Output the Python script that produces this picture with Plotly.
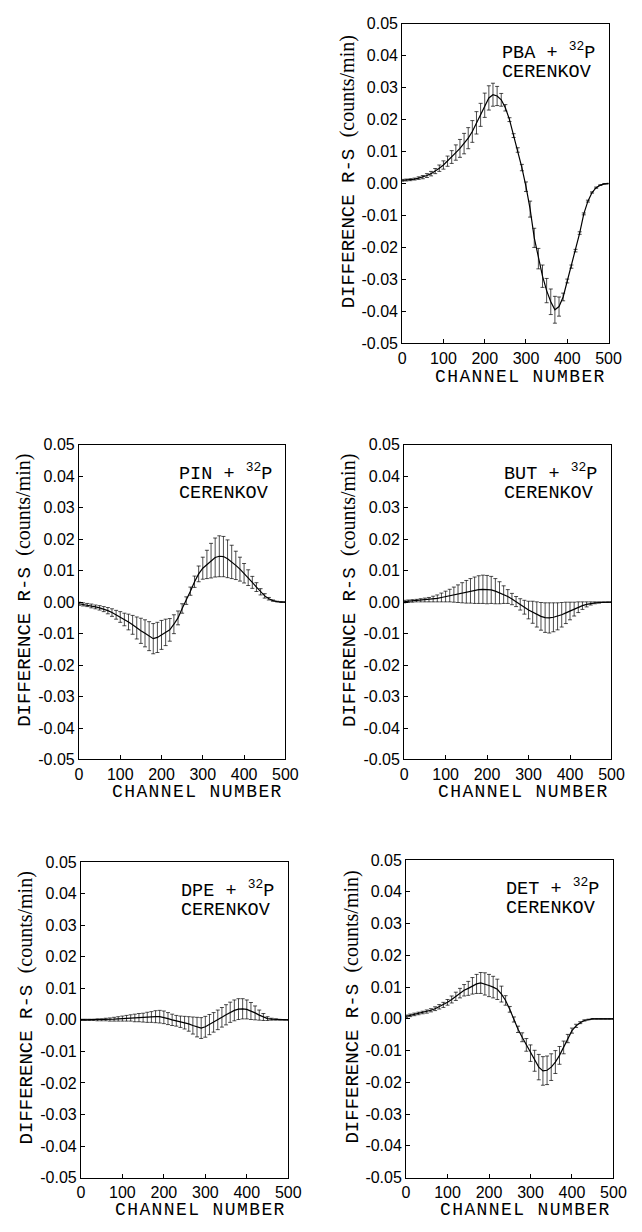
import plotly.graph_objects as go

channels = list(range(0, 501, 10))

pba_mean = [0.0010, 0.0011, 0.0012, 0.0014, 0.0017, 0.0020, 0.0025, 0.0031, 0.0039, 0.0048,
            0.0058, 0.0070, 0.0083, 0.0097, 0.0110, 0.0125, 0.0142, 0.0163, 0.0190, 0.0215,
            0.0245, 0.0268, 0.0278, 0.0274, 0.0262, 0.0237, 0.0200, 0.0150, 0.0105, 0.0050,
            -0.0010, -0.0080, -0.0170, -0.0235, -0.0290, -0.0335, -0.0370, -0.0395, -0.0385, -0.0355,
            -0.0305, -0.0260, -0.0210, -0.0155, -0.0095, -0.0055, -0.0028, -0.0013, -0.0005, -0.0001,
            0.0000]
pba_err = [0.0003, 0.0003, 0.0003, 0.0003, 0.0004, 0.0005, 0.0006, 0.0007, 0.0008, 0.0010,
           0.0013, 0.0016, 0.0020, 0.0024, 0.0028, 0.0032, 0.0033, 0.0034, 0.0035, 0.0036,
           0.0038, 0.0038, 0.0036, 0.0030, 0.0020, 0.0010, 0.0006, 0.0006, 0.0007, 0.0010,
           0.0015, 0.0025, 0.0030, 0.0032, 0.0035, 0.0038, 0.0040, 0.0042, 0.0030, 0.0012,
           0.0006, 0.0005, 0.0004, 0.0004, 0.0003, 0.0003, 0.0002, 0.0002, 0.0001, 0.0001,
           0.0001]

pin_mean = [-0.0005, -0.0007, -0.0009, -0.0012, -0.0015, -0.0018, -0.0022, -0.0027, -0.0033, -0.0040,
            -0.0047, -0.0055, -0.0063, -0.0072, -0.0082, -0.0091, -0.0099, -0.0108, -0.0116, -0.0112,
            -0.0104, -0.0096, -0.0088, -0.0070, -0.0050, -0.0020, 0.0005, 0.0035, 0.0065, 0.0090,
            0.0108, 0.0120, 0.0132, 0.0142, 0.0146, 0.0145, 0.0138, 0.0128, 0.0117, 0.0105,
            0.0092, 0.0078, 0.0063, 0.0048, 0.0033, 0.0020, 0.0011, 0.0005, 0.0002, 0.0000,
            0.0000]
pin_err = [0.0005, 0.0005, 0.0005, 0.0006, 0.0006, 0.0007, 0.0008, 0.0010, 0.0012, 0.0014,
           0.0017, 0.0020, 0.0025, 0.0030, 0.0035, 0.0040, 0.0043, 0.0046, 0.0048, 0.0048,
           0.0046, 0.0042, 0.0036, 0.0030, 0.0022, 0.0015, 0.0012, 0.0013, 0.0018, 0.0025,
           0.0035, 0.0045, 0.0055, 0.0062, 0.0065, 0.0064, 0.0060, 0.0053, 0.0045, 0.0038,
           0.0031, 0.0025, 0.0019, 0.0014, 0.0010, 0.0007, 0.0004, 0.0002, 0.0001, 0.0001,
           0.0001]

but_mean = [0.0002, 0.0003, 0.0004, 0.0005, 0.0006, 0.0007, 0.0008, 0.0010, 0.0012, 0.0015,
            0.0018, 0.0021, 0.0024, 0.0027, 0.0030, 0.0033, 0.0036, 0.0038, 0.0040, 0.0041,
            0.0040, 0.0039, 0.0035, 0.0030, 0.0024, 0.0018, 0.0010, 0.0002, -0.0007, -0.0016,
            -0.0025, -0.0032, -0.0039, -0.0045, -0.0049, -0.0050, -0.0048, -0.0045, -0.0040, -0.0034,
            -0.0028, -0.0022, -0.0016, -0.0011, -0.0007, -0.0004, -0.0002, -0.0001, 0.0000, 0.0000,
            0.0000]
but_err = [0.0004, 0.0004, 0.0004, 0.0004, 0.0005, 0.0006, 0.0007, 0.0009, 0.0011, 0.0014,
           0.0017, 0.0020, 0.0024, 0.0028, 0.0032, 0.0036, 0.0039, 0.0042, 0.0044, 0.0045,
           0.0045, 0.0043, 0.0040, 0.0035, 0.0028, 0.0022, 0.0018, 0.0016, 0.0018, 0.0022,
           0.0028, 0.0035, 0.0040, 0.0044, 0.0047, 0.0048, 0.0046, 0.0043, 0.0039, 0.0034,
           0.0028, 0.0022, 0.0017, 0.0012, 0.0008, 0.0005, 0.0003, 0.0002, 0.0001, 0.0001,
           0.0001]

dpe_mean = [0.0000, 0.0000, 0.0000, 0.0000, 0.0000, 0.0000, 0.0001, 0.0001, 0.0002, 0.0003,
            0.0004, 0.0005, 0.0006, 0.0006, 0.0007, 0.0007, 0.0008, 0.0009, 0.0010, 0.0010,
            0.0008, 0.0004, 0.0000, -0.0003, -0.0006, -0.0009, -0.0013, -0.0018, -0.0023, -0.0026,
            -0.0022, -0.0015, -0.0008, 0.0000, 0.0008, 0.0016, 0.0024, 0.0030, 0.0034, 0.0035,
            0.0033, 0.0028, 0.0022, 0.0015, 0.0009, 0.0004, 0.0002, 0.0001, 0.0000, 0.0000,
            0.0000]
dpe_err = [0.0002, 0.0002, 0.0002, 0.0002, 0.0003, 0.0003, 0.0004, 0.0005, 0.0006, 0.0007,
           0.0008, 0.0009, 0.0010, 0.0012, 0.0013, 0.0014, 0.0016, 0.0017, 0.0019, 0.0020,
           0.0020, 0.0019, 0.0018, 0.0017, 0.0018, 0.0020, 0.0023, 0.0027, 0.0031, 0.0033,
           0.0033, 0.0032, 0.0031, 0.0031, 0.0031, 0.0032, 0.0032, 0.0033, 0.0033, 0.0032,
           0.0030, 0.0027, 0.0022, 0.0016, 0.0011, 0.0006, 0.0003, 0.0002, 0.0001, 0.0001,
           0.0001]

det_mean = [0.0008, 0.0011, 0.0014, 0.0017, 0.0020, 0.0023, 0.0027, 0.0032, 0.0038, 0.0044,
            0.0052, 0.0061, 0.0071, 0.0081, 0.0090, 0.0096, 0.0104, 0.0110, 0.0113, 0.0110,
            0.0105, 0.0100, 0.0093, 0.0078, 0.0058, 0.0030, -0.0002, -0.0033, -0.0058, -0.0082,
            -0.0108, -0.0132, -0.0152, -0.0164, -0.0162, -0.0152, -0.0136, -0.0115, -0.0090, -0.0062,
            -0.0037, -0.0022, -0.0012, -0.0005, -0.0002, 0.0000, 0.0000, 0.0000, 0.0000, 0.0000,
            0.0000]
det_err = [0.0004, 0.0004, 0.0004, 0.0004, 0.0004, 0.0005, 0.0005, 0.0006, 0.0007, 0.0008,
           0.0009, 0.0011, 0.0013, 0.0015, 0.0018, 0.0022, 0.0026, 0.0030, 0.0033, 0.0035,
           0.0035, 0.0034, 0.0032, 0.0025, 0.0015, 0.0009, 0.0008, 0.0010, 0.0014, 0.0020,
           0.0026, 0.0033, 0.0040, 0.0045, 0.0045, 0.0042, 0.0036, 0.0028, 0.0020, 0.0013,
           0.0008, 0.0005, 0.0003, 0.0002, 0.0001, 0.0001, 0.0001, 0.0001, 0.0001, 0.0001,
           0.0001]

sample_names = ["PBA", "PIN", "BUT", "DPE", "DET"]
series_means = [pba_mean, pin_mean, but_mean, dpe_mean, det_mean]
series_errs = [pba_err, pin_err, but_err, dpe_err, det_err]

x_tick_vals = [0, 100, 200, 300, 400, 500]
x_tick_labels = ["0", "100", "200", "300", "400", "500"]
y_tick_vals = [-0.05, -0.04, -0.03, -0.02, -0.01, 0.0, 0.01, 0.02, 0.03, 0.04, 0.05]
y_tick_labels = ["-0.05", "-0.04", "-0.03", "-0.02", "-0.01", "0.00",
                 "0.01", "0.02", "0.03", "0.04", "0.05"]

x_title = "CHANNEL NUMBER"
y_title_main = "DIFFERENCE R-S"
y_title_unit = "(counts/min)"
source_label = "CERENKOV"

# ---- layout geometry (page pixels) ----
W, H = 642, 1232
boxes = [(409, 621, 16, 340), (77, 289, 443, 762), (411, 624, 443, 762),
         (79, 292, 866, 1186), (413, 626, 864, 1186)]
x_title_drop = [34, 33, 33, 33, 33]

MONO = "Liberation Mono"
SANS = "Liberation Sans"
SERIF = "Liberation Serif"

fig = go.Figure()
layout = dict(width=W, height=H, margin=dict(l=0, r=0, t=0, b=0),
              paper_bgcolor="white", plot_bgcolor="white", showlegend=False)
annotations = []

for i, (name, mean, err) in enumerate(zip(sample_names, series_means, series_errs)):
    k = "" if i == 0 else str(i + 1)
    xa, ya = "x" + k, "y" + k
    fig.add_trace(go.Scatter(
        x=channels, y=mean, xaxis=xa, yaxis=ya, mode="lines",
        line=dict(color="black", width=1.2),
        error_y=dict(type="data", array=err, visible=True, color="black",
                     thickness=0.7, width=2),
        hoverinfo="skip"))
    x0, x1, y0, y1 = boxes[i]
    pw, ph = x1 - x0, y1 - y0
    axis_common = dict(showline=True, linecolor="black", linewidth=1, mirror=True,
                       ticks="inside", ticklen=4, tickcolor="black", tickwidth=1,
                       showgrid=False, zeroline=False,
                       tickfont=dict(family=SANS, size=16, color="black"))
    layout["xaxis" + k] = dict(axis_common, domain=[x0 / W, x1 / W], range=[0, 500],
                               anchor=ya, tickvals=x_tick_vals, ticktext=x_tick_labels)
    layout["yaxis" + k] = dict(axis_common, domain=[1 - y1 / H, 1 - y0 / H],
                               range=[-0.05, 0.05], anchor=xa,
                               tickvals=y_tick_vals, ticktext=y_tick_labels)
    xd, yd = xa + " domain", ya + " domain"
    # sample label
    annotations.append(dict(xref=xd, yref=yd, x=101 / pw, y=1 - 28 / ph,
                            xanchor="left", yanchor="middle", showarrow=False,
                            text=name + " + <sup>32</sup>P",
                            font=dict(family=MONO, size=18.5, color="black")))
    annotations.append(dict(xref=xd, yref=yd, x=101 / pw, y=1 - 49.5 / ph,
                            xanchor="left", yanchor="middle", showarrow=False,
                            text=source_label,
                            font=dict(family=MONO, size=18.5, color="black")))
    # x title
    annotations.append(dict(xref=xd, yref=yd, x=0.5 + 16 / pw, y=-x_title_drop[i] / ph,
                            xanchor="center", yanchor="middle", showarrow=False,
                            text="<span style='letter-spacing:1.4px'>" + x_title + "</span>",
                            font=dict(family=MONO, size=18, color="black")))
    # y title
    annotations.append(dict(xref=xd, yref=yd, x=-56 / pw, y=0.5 + 12 / ph,
                            xanchor="center", yanchor="middle", showarrow=False,
                            textangle=-90,
                            text=y_title_main + " <span style='font-family:" + SERIF +
                                 ";font-size:20px'>" + y_title_unit + "</span>",
                            font=dict(family=MONO, size=19, color="black")))

layout["annotations"] = annotations
fig.update_layout(**layout)

pin_page = ("var d=document.getElementById('{plot_id}');"
            "document.documentElement.style.margin='0';document.body.style.margin='0';"
            "document.documentElement.style.overflow='hidden';document.body.style.overflow='hidden';"
            "d.style.position='fixed';d.style.left='0px';d.style.top='0px';")
fig.write_html("out.html", config={"displayModeBar": False, "responsive": False},
               post_script=pin_page)
